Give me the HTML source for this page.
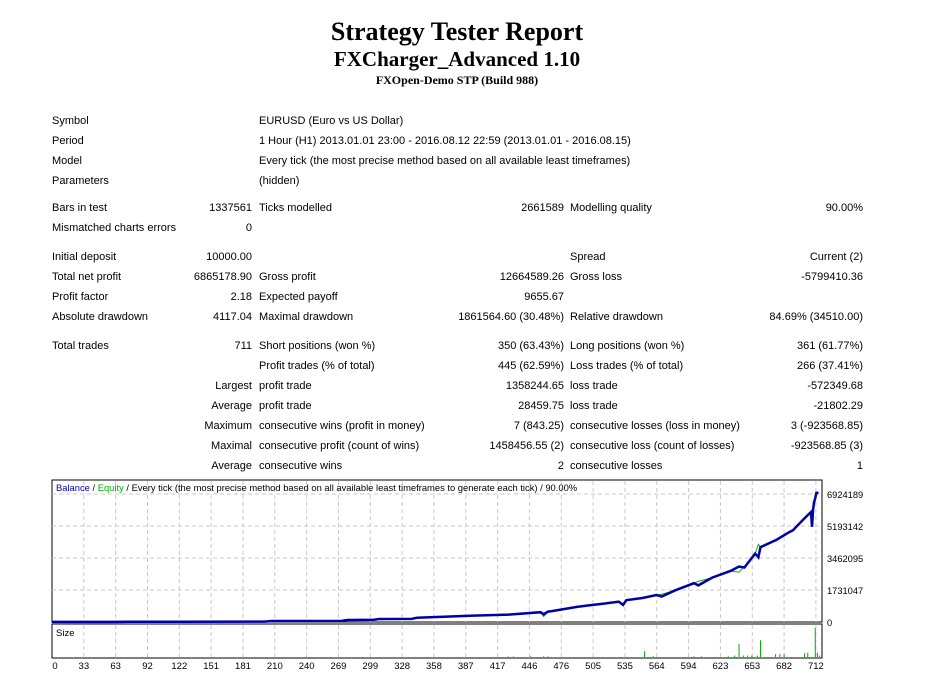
<!DOCTYPE html>
<html><head><meta charset="utf-8"><style>
body{margin:0;width:942px;height:694px;background:#fff;position:relative;overflow:hidden;font-family:"Liberation Sans",sans-serif;font-size:11px;color:#000}
.t{position:absolute;white-space:nowrap;line-height:13px}
.r{text-align:right}
h1,h2,h3{position:absolute;left:0;width:914px;text-align:center;margin:0;font-family:"Liberation Serif",serif;font-weight:bold}
</style></head><body>
<h1 style="top:17px;font-size:26px">Strategy Tester Report</h1>
<h2 style="top:47px;font-size:21px">FXCharger_Advanced 1.10</h2>
<h3 style="top:73px;font-size:12px">FXOpen-Demo STP (Build 988)</h3>
<div id="tbl"></div>
<svg id="ch" width="942" height="694" style="position:absolute;left:0;top:0"></svg>
<script>
const rows=[
[115,"Symbol","","EURUSD (Euro vs US Dollar)","","",""],
[135,"Period","","1 Hour (H1) 2013.01.01 23:00 - 2016.08.12 22:59 (2013.01.01 - 2016.08.15)","","",""],
[155,"Model","","Every tick (the most precise method based on all available least timeframes)","","",""],
[175,"Parameters","","(hidden)","","",""],
[202,"Bars in test","1337561","Ticks modelled","2661589","Modelling quality","90.00%"],
[222,"Mismatched charts errors","0","","","",""],
[251,"Initial deposit","10000.00","","","Spread","Current (2)"],
[271,"Total net profit","6865178.90","Gross profit","12664589.26","Gross loss","-5799410.36"],
[291,"Profit factor","2.18","Expected payoff","9655.67","",""],
[311,"Absolute drawdown","4117.04","Maximal drawdown","1861564.60 (30.48%)","Relative drawdown","84.69% (34510.00)"],
[340,"Total trades","711","Short positions (won %)","350 (63.43%)","Long positions (won %)","361 (61.77%)"],
[360,"","","Profit trades (% of total)","445 (62.59%)","Loss trades (% of total)","266 (37.41%)"],
[380,"","Largest","profit trade","1358244.65","loss trade","-572349.68"],
[400,"","Average","profit trade","28459.75","loss trade","-21802.29"],
[420,"","Maximum","consecutive wins (profit in money)","7 (843.25)","consecutive losses (loss in money)","3 (-923568.85)"],
[440,"","Maximal","consecutive profit (count of wins)","1458456.55 (2)","consecutive loss (count of losses)","-923568.85 (3)"],
[460,"","Average","consecutive wins","2","consecutive losses","1"]];
const tbl=document.getElementById('tbl');
function put(txt,x,y,right,name){if(!txt)return;const d=document.createElement('div');d.className='t'+(right?' r':'');


d.style.top=y+'px';if(right){d.style.left=(x-300)+'px';d.style.width='300px';}else d.style.left=x+'px';d.textContent=txt;tbl.appendChild(d);}
rows.forEach(r=>{put(r[1],52,r[0],false,'row-label');put(r[2],252,r[0],true,'row-value');put(r[3],259,r[0],false,'row-label');put(r[4],564,r[0],true,'row-value');put(r[5],570,r[0],false,'row-label');put(r[6],863,r[0],true,'row-value');});

const tradeIdx=[0,60,120,198,205,270,275,300,305,335,340,380,385,425,430,455,458,462,465,489,500,515,528,532,535,550,563,568,580,598,602,615,632,640,645,655,658,660,675,687,690,700,707,708,709,710,711,712,714];
const balance=[10000,10000,12000,20000,55000,60000,110000,120000,165000,170000,230000,320000,330000,400000,420000,530000,420000,560000,580000,820000,900000,1000000,1100000,920000,1180000,1300000,1460000,1380000,1700000,2100000,1980000,2400000,2760000,3000000,2950000,3700000,3500000,4050000,4450000,4870000,4950000,5550000,5950000,5150000,6100000,6500000,6700000,6980000,7000000];
const equity=[10000,10000,12000,20000,55000,60000,110000,120000,165000,170000,230000,320000,330000,400000,420000,530000,300000,560000,580000,820000,900000,1000000,1100000,1000000,1180000,1300000,1460000,1500000,1700000,2100000,2200000,2400000,2760000,2700000,3000000,3700000,4200000,4050000,4450000,4870000,4950000,5550000,5950000,5150000,6500000,6500000,6700000,6980000,7000000];
const sizeIdx=[425,430,446,458,462,552,560,598,605,630,636,640,644,648,652,657,660,674,678,682,701,704,711,713,715];
const sizeVal=[1,1,1,1,1,8,1,1,1,1,2,18,2,2,2,2,23,4,4,4,5,6,40,6,2];
const yTicks=[0,1731047,3462095,5193142,6924189];
const xTicks=[0,33,63,92,122,151,181,210,240,269,299,328,358,387,417,446,476,505,535,564,594,623,653,682,712];
const NS='http://www.w3.org/2000/svg';const svg=document.getElementById('ch');
function el(tag,a,name){const e=document.createElementNS(NS,tag);for(const k in a)e.setAttribute(k,a[k]);


svg.appendChild(e);return e;}
const L=52,R=822,T=480,B=622,ST=624,SB=658;
const xs=t=>L+t*1.0735;
const ys=v=>B-v/1731047*32;
const ss=v=>SB-1-v/40*29;
el('rect',{x:L,y:T,width:R-L,height:B-T,fill:'#fff',stroke:'#000','stroke-width':1},'main-panel');
el('rect',{x:L,y:ST,width:R-L,height:SB-ST,fill:'#fff',stroke:'#000','stroke-width':1},'size-panel');
xTicks.forEach((t,i)=>{const x=L+i*31.83;if(i>0){el('line',{x1:x,y1:T+1,x2:x,y2:B,stroke:'#c8c8c8','stroke-dasharray':'4,3'},'x-grid');el('line',{x1:x,y1:ST+1,x2:x,y2:SB,stroke:'#c8c8c8','stroke-dasharray':'4,3'},'x-grid');}
const tx=el('text',{x:i==0?x+3:x,y:669,'text-anchor':'middle','font-size':9.5,'font-family':'Liberation Sans'},'x-tick-label');tx.textContent=t;});
yTicks.forEach(v=>{const y=ys(v);if(v>0)el('line',{x1:L,y1:y,x2:R,y2:y,stroke:'#c8c8c8','stroke-dasharray':'4,3'},'y-grid');
const tx=el('text',{x:827,y:y+4,'font-size':9.3,'font-family':'Liberation Sans'},'y-tick-label');tx.textContent=v;});
el('polyline',{points:tradeIdx.map((t,i)=>xs(t)+','+ys(equity[i])).join(' '),fill:'none',stroke:'#00b000','stroke-width':1},'equity-line');
el('polyline',{points:tradeIdx.map((t,i)=>xs(t)+','+ys(balance[i])).join(' '),fill:'none',stroke:'#0000a8','stroke-width':2.5},'balance-line');
sizeIdx.forEach((t,i)=>el('line',{x1:xs(t),y1:SB-1,x2:xs(t),y2:ss(sizeVal[i]),stroke:'#00b000','stroke-width':1},'size-bar'));
const lg=el('text',{x:56,y:491,'font-size':9.4,'font-family':'Liberation Sans'},'chart-legend');
lg.innerHTML='<tspan fill="#0000c0">Balance</tspan> / <tspan fill="#00b000">Equity</tspan> / Every tick (the most precise method based on all available least timeframes to generate each tick) / 90.00%';
const sz=el('text',{x:56,y:636,'font-size':9.5,'font-family':'Liberation Sans'},'size-label');sz.textContent='Size';
</script>
</body></html>
